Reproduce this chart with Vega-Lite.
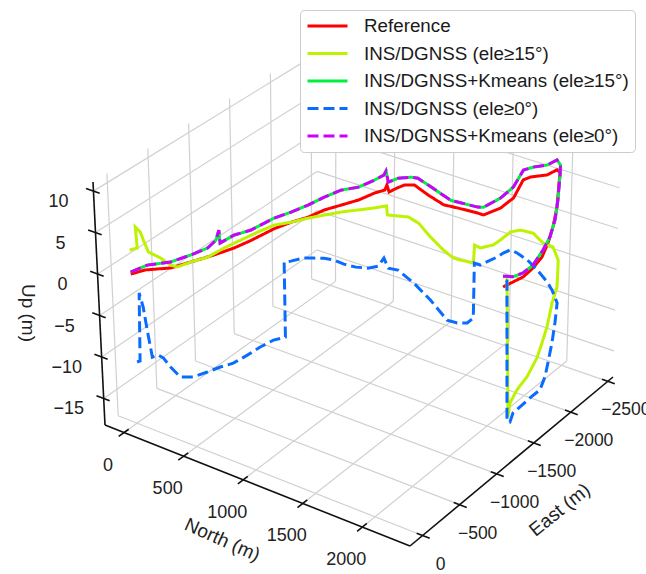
{
 "$schema": "https://vega.github.io/schema/vega-lite/v6.json",
 "width": 646, "height": 574, "padding": 0,
 "autosize": {"type": "none"},
 "background": "white",
 "config": {"view": {"stroke": null}, "text": {"font": "Liberation Sans"}},
 "data": {"values": [
  {"k":"g","id":"e0","N":-160,"E":0,"U":-18.2},{"k":"g","id":"e0","N":-160,"E":0,"U":11.1},
  {"k":"g","id":"e1","N":-160,"E":-500,"U":-18.2},{"k":"g","id":"e1","N":-160,"E":-500,"U":11.1},
  {"k":"g","id":"e2","N":-160,"E":-1000,"U":-18.2},{"k":"g","id":"e2","N":-160,"E":-1000,"U":11.1},
  {"k":"g","id":"e3","N":-160,"E":-1500,"U":-18.2},{"k":"g","id":"e3","N":-160,"E":-1500,"U":11.1},
  {"k":"g","id":"e4","N":-160,"E":-2000,"U":-18.2},{"k":"g","id":"e4","N":-160,"E":-2000,"U":11.1},
  {"k":"g","id":"e5","N":-160,"E":-2500,"U":-18.2},{"k":"g","id":"e5","N":-160,"E":-2500,"U":11.1},
  {"k":"g","id":"u1","N":-160,"E":170,"U":-15},{"k":"g","id":"u1","N":-160,"E":-2570,"U":-15},
  {"k":"g","id":"u2","N":-160,"E":170,"U":-10},{"k":"g","id":"u2","N":-160,"E":-2570,"U":-10},
  {"k":"g","id":"u3","N":-160,"E":170,"U":-5},{"k":"g","id":"u3","N":-160,"E":-2570,"U":-5},
  {"k":"g","id":"u4","N":-160,"E":170,"U":0},{"k":"g","id":"u4","N":-160,"E":-2570,"U":0},
  {"k":"g","id":"u5","N":-160,"E":170,"U":5},{"k":"g","id":"u5","N":-160,"E":-2570,"U":5},
  {"k":"g","id":"u6","N":-160,"E":170,"U":10},{"k":"g","id":"u6","N":-160,"E":-2570,"U":10},
  {"k":"g","id":"n1","N":0,"E":-2570,"U":-18.2},{"k":"g","id":"n1","N":0,"E":-2570,"U":11.1},
  {"k":"g","id":"n2","N":500,"E":-2570,"U":-18.2},{"k":"g","id":"n2","N":500,"E":-2570,"U":11.1},
  {"k":"g","id":"n3","N":1000,"E":-2570,"U":-18.2},{"k":"g","id":"n3","N":1000,"E":-2570,"U":11.1},
  {"k":"g","id":"n4","N":1500,"E":-2570,"U":-18.2},{"k":"g","id":"n4","N":1500,"E":-2570,"U":11.1},
  {"k":"g","id":"n5","N":2000,"E":-2570,"U":-18.2},{"k":"g","id":"n5","N":2000,"E":-2570,"U":11.1},
  {"k":"g","id":"r1","N":-160,"E":-2570,"U":-15},{"k":"g","id":"r1","N":2400,"E":-2570,"U":-15},
  {"k":"g","id":"r2","N":-160,"E":-2570,"U":-10},{"k":"g","id":"r2","N":2400,"E":-2570,"U":-10},
  {"k":"g","id":"r3","N":-160,"E":-2570,"U":-5},{"k":"g","id":"r3","N":2400,"E":-2570,"U":-5},
  {"k":"g","id":"r4","N":-160,"E":-2570,"U":0},{"k":"g","id":"r4","N":2400,"E":-2570,"U":0},
  {"k":"g","id":"r5","N":-160,"E":-2570,"U":5},{"k":"g","id":"r5","N":2400,"E":-2570,"U":5},
  {"k":"g","id":"r6","N":-160,"E":-2570,"U":10},{"k":"g","id":"r6","N":2400,"E":-2570,"U":10},
  {"k":"g","id":"f1","N":0,"E":170,"U":-18.2},{"k":"g","id":"f1","N":0,"E":-2570,"U":-18.2},
  {"k":"g","id":"f2","N":500,"E":170,"U":-18.2},{"k":"g","id":"f2","N":500,"E":-2570,"U":-18.2},
  {"k":"g","id":"f3","N":1000,"E":170,"U":-18.2},{"k":"g","id":"f3","N":1000,"E":-2570,"U":-18.2},
  {"k":"g","id":"f4","N":1500,"E":170,"U":-18.2},{"k":"g","id":"f4","N":1500,"E":-2570,"U":-18.2},
  {"k":"g","id":"f5","N":2000,"E":170,"U":-18.2},{"k":"g","id":"f5","N":2000,"E":-2570,"U":-18.2},
  {"k":"g","id":"h0","N":-160,"E":0,"U":-18.2},{"k":"g","id":"h0","N":2400,"E":0,"U":-18.2},
  {"k":"g","id":"h1","N":-160,"E":-500,"U":-18.2},{"k":"g","id":"h1","N":2400,"E":-500,"U":-18.2},
  {"k":"g","id":"h2","N":-160,"E":-1000,"U":-18.2},{"k":"g","id":"h2","N":2400,"E":-1000,"U":-18.2},
  {"k":"g","id":"h3","N":-160,"E":-1500,"U":-18.2},{"k":"g","id":"h3","N":2400,"E":-1500,"U":-18.2},
  {"k":"g","id":"h4","N":-160,"E":-2000,"U":-18.2},{"k":"g","id":"h4","N":2400,"E":-2000,"U":-18.2},
  {"k":"g","id":"h5","N":-160,"E":-2500,"U":-18.2},{"k":"g","id":"h5","N":2400,"E":-2500,"U":-18.2},

  {"k":"a","id":"aN","N":-160,"E":170,"U":-18.2},{"k":"a","id":"aN","N":2400,"E":170,"U":-18.2},
  {"k":"a","id":"aE","N":2400,"E":170,"U":-18.2},{"k":"a","id":"aE","N":2400,"E":-2570,"U":-18.2},
  {"k":"a","id":"aU","N":-160,"E":170,"U":-18.2},{"k":"a","id":"aU","N":-160,"E":170,"U":11.1},
  {"k":"t","id":"tn0","N":0,"E":240,"U":-18.2},{"k":"t","id":"tn0","N":0,"E":110,"U":-18.2},
  {"k":"t","id":"tn1","N":500,"E":240,"U":-18.2},{"k":"t","id":"tn1","N":500,"E":110,"U":-18.2},
  {"k":"t","id":"tn2","N":1000,"E":240,"U":-18.2},{"k":"t","id":"tn2","N":1000,"E":110,"U":-18.2},
  {"k":"t","id":"tn3","N":1500,"E":240,"U":-18.2},{"k":"t","id":"tn3","N":1500,"E":110,"U":-18.2},
  {"k":"t","id":"tn4","N":2000,"E":240,"U":-18.2},{"k":"t","id":"tn4","N":2000,"E":110,"U":-18.2},
  {"k":"t","id":"te0","N":2460,"E":0,"U":-18.2},{"k":"t","id":"te0","N":2350,"E":0,"U":-18.2},
  {"k":"t","id":"te1","N":2460,"E":-500,"U":-18.2},{"k":"t","id":"te1","N":2350,"E":-500,"U":-18.2},
  {"k":"t","id":"te2","N":2460,"E":-1000,"U":-18.2},{"k":"t","id":"te2","N":2350,"E":-1000,"U":-18.2},
  {"k":"t","id":"te3","N":2460,"E":-1500,"U":-18.2},{"k":"t","id":"te3","N":2350,"E":-1500,"U":-18.2},
  {"k":"t","id":"te4","N":2460,"E":-2000,"U":-18.2},{"k":"t","id":"te4","N":2350,"E":-2000,"U":-18.2},
  {"k":"t","id":"te5","N":2460,"E":-2500,"U":-18.2},{"k":"t","id":"te5","N":2350,"E":-2500,"U":-18.2},
  {"k":"t","id":"tu1","N":-220,"E":170,"U":-15},{"k":"t","id":"tu1","N":-110,"E":170,"U":-15},
  {"k":"t","id":"tu2","N":-220,"E":170,"U":-10},{"k":"t","id":"tu2","N":-110,"E":170,"U":-10},
  {"k":"t","id":"tu3","N":-220,"E":170,"U":-5},{"k":"t","id":"tu3","N":-110,"E":170,"U":-5},
  {"k":"t","id":"tu4","N":-220,"E":170,"U":0},{"k":"t","id":"tu4","N":-110,"E":170,"U":0},
  {"k":"t","id":"tu5","N":-220,"E":170,"U":5},{"k":"t","id":"tu5","N":-110,"E":170,"U":5},
  {"k":"t","id":"tu6","N":-220,"E":170,"U":10},{"k":"t","id":"tu6","N":-110,"E":170,"U":10},

  {"k":"nl","N":0,"E":170,"U":-18.2,"lab":"0"},
  {"k":"nl","N":500,"E":170,"U":-18.2,"lab":"500"},
  {"k":"nl","N":1000,"E":170,"U":-18.2,"lab":"1000"},
  {"k":"nl","N":1500,"E":170,"U":-18.2,"lab":"1500"},
  {"k":"nl","N":2000,"E":170,"U":-18.2,"lab":"2000"},
  {"k":"el","N":2400,"E":0,"U":-18.2,"lab":"0"},
  {"k":"el","N":2400,"E":-500,"U":-18.2,"lab":"−500"},
  {"k":"el","N":2400,"E":-1000,"U":-18.2,"lab":"−1000"},
  {"k":"el","N":2400,"E":-1500,"U":-18.2,"lab":"−1500"},
  {"k":"el","N":2400,"E":-2000,"U":-18.2,"lab":"−2000"},
  {"k":"el","N":2400,"E":-2500,"U":-18.2,"lab":"−2500"},
  {"k":"ul","N":-160,"E":170,"U":10,"lab":"10"},
  {"k":"ul","N":-160,"E":170,"U":5,"lab":"5"},
  {"k":"ul","N":-160,"E":170,"U":0,"lab":"0"},
  {"k":"ul","N":-160,"E":170,"U":-5,"lab":"−5"},
  {"k":"ul","N":-160,"E":170,"U":-10,"lab":"−10"},
  {"k":"ul","N":-160,"E":170,"U":-15,"lab":"−15"},
  {"k":"nt","N":1120,"E":170,"U":-18.2,"lab":"North (m)"},
  {"k":"et","N":2400,"E":-1200,"U":-18.2,"lab":"East (m)"},
  {"k":"ut","N":-160,"E":170,"U":-3.55,"lab":"Up (m)"},

  {"k":"s","s":"Reference","N":0,"E":0,"U":-0.2},
  {"k":"s","s":"Reference","N":76,"E":-70,"U":0.27},
  {"k":"s","s":"Reference","N":207,"E":-190,"U":0.45},
  {"k":"s","s":"Reference","N":310,"E":-285,"U":1.11},
  {"k":"s","s":"Reference","N":430,"E":-396,"U":1.88},
  {"k":"s","s":"Reference","N":535,"E":-492,"U":2.66},
  {"k":"s","s":"Reference","N":622,"E":-572,"U":3.5},
  {"k":"s","s":"Reference","N":745,"E":-685,"U":4.85},
  {"k":"s","s":"Reference","N":834,"E":-767,"U":5.56},
  {"k":"s","s":"Reference","N":921,"E":-847,"U":6.09},
  {"k":"s","s":"Reference","N":1004,"E":-923,"U":6.88},
  {"k":"s","s":"Reference","N":1093,"E":-1005,"U":7.39},
  {"k":"s","s":"Reference","N":1182,"E":-1087,"U":7.91},
  {"k":"s","s":"Reference","N":1264,"E":-1162,"U":8.66},
  {"k":"s","s":"Reference","N":1316,"E":-1210,"U":8.96},
  {"k":"s","s":"Reference","N":1327,"E":-1220,"U":9.56},
  {"k":"s","s":"Reference","N":1338,"E":-1230,"U":8.69},
  {"k":"s","s":"Reference","N":1378,"E":-1267,"U":9.11},
  {"k":"s","s":"Reference","N":1418,"E":-1304,"U":9.44},
  {"k":"s","s":"Reference","N":1470,"E":-1351,"U":9.37},
  {"k":"s","s":"Reference","N":1541,"E":-1417,"U":8.06},
  {"k":"s","s":"Reference","N":1623,"E":-1492,"U":6.76},
  {"k":"s","s":"Reference","N":1697,"E":-1560,"U":6.27},
  {"k":"s","s":"Reference","N":1800,"E":-1654,"U":5.52},
  {"k":"s","s":"Reference","N":1831,"E":-1683,"U":5.23},
  {"k":"s","s":"Reference","N":1920,"E":-1765,"U":5.94},
  {"k":"s","s":"Reference","N":1987,"E":-1827,"U":7.06},
  {"k":"s","s":"Reference","N":2036,"E":-1872,"U":9.17},
  {"k":"s","s":"Reference","N":2074,"E":-1906,"U":9.46},
  {"k":"s","s":"Reference","N":2161,"E":-1986,"U":9.57},
  {"k":"s","s":"Reference","N":2212,"E":-2034,"U":10.1},
  {"k":"s","s":"Reference","N":2230,"E":-2050,"U":9.69},
  {"k":"s","s":"Reference","N":2230,"E":-2036,"U":8.56},
  {"k":"s","s":"Reference","N":2230,"E":-2017,"U":5.77},
  {"k":"s","s":"Reference","N":2230,"E":-1970,"U":3.69},
  {"k":"s","s":"Reference","N":2230,"E":-1909,"U":2.16},
  {"k":"s","s":"Reference","N":2230,"E":-1833,"U":1.0},
  {"k":"s","s":"Reference","N":2230,"E":-1715,"U":0.49},
  {"k":"s","s":"Reference","N":2230,"E":-1585,"U":0.33},
  {"k":"s","s":"Reference","N":2230,"E":-1453,"U":0.66},
  {"k":"s","s":"Reference","N":2230,"E":-1322,"U":0.98},

  {"k":"s","s":"INS/DGNSS (ele≥15°)","N":0,"E":0,"U":2.71},
  {"k":"s","s":"INS/DGNSS (ele≥15°)","N":39,"E":-36,"U":2.93},
  {"k":"s","s":"INS/DGNSS (ele≥15°)","N":33,"E":-31,"U":5.46},
  {"k":"s","s":"INS/DGNSS (ele≥15°)","N":58,"E":-53,"U":4.86},
  {"k":"s","s":"INS/DGNSS (ele≥15°)","N":72,"E":-66,"U":3.89},
  {"k":"s","s":"INS/DGNSS (ele≥15°)","N":95,"E":-87,"U":2.43},
  {"k":"s","s":"INS/DGNSS (ele≥15°)","N":156,"E":-144,"U":1.67},
  {"k":"s","s":"INS/DGNSS (ele≥15°)","N":206,"E":-189,"U":0.81},
  {"k":"s","s":"INS/DGNSS (ele≥15°)","N":241,"E":-221,"U":0.55},
  {"k":"s","s":"INS/DGNSS (ele≥15°)","N":310,"E":-285,"U":1.11},
  {"k":"s","s":"INS/DGNSS (ele≥15°)","N":399,"E":-367,"U":1.66},
  {"k":"s","s":"INS/DGNSS (ele≥15°)","N":483,"E":-444,"U":2.69},
  {"k":"s","s":"INS/DGNSS (ele≥15°)","N":571,"E":-525,"U":3.6},
  {"k":"s","s":"INS/DGNSS (ele≥15°)","N":659,"E":-606,"U":4.49},
  {"k":"s","s":"INS/DGNSS (ele≥15°)","N":743,"E":-683,"U":5.27},
  {"k":"s","s":"INS/DGNSS (ele≥15°)","N":834,"E":-767,"U":5.56},
  {"k":"s","s":"INS/DGNSS (ele≥15°)","N":921,"E":-847,"U":5.97},
  {"k":"s","s":"INS/DGNSS (ele≥15°)","N":1004,"E":-923,"U":6.26},
  {"k":"s","s":"INS/DGNSS (ele≥15°)","N":1093,"E":-1005,"U":6.54},
  {"k":"s","s":"INS/DGNSS (ele≥15°)","N":1182,"E":-1087,"U":6.7},
  {"k":"s","s":"INS/DGNSS (ele≥15°)","N":1264,"E":-1162,"U":6.85},
  {"k":"s","s":"INS/DGNSS (ele≥15°)","N":1325,"E":-1218,"U":7.02},
  {"k":"s","s":"INS/DGNSS (ele≥15°)","N":1329,"E":-1222,"U":5.91},
  {"k":"s","s":"INS/DGNSS (ele≥15°)","N":1385,"E":-1273,"U":5.72},
  {"k":"s","s":"INS/DGNSS (ele≥15°)","N":1438,"E":-1322,"U":5.53},
  {"k":"s","s":"INS/DGNSS (ele≥15°)","N":1492,"E":-1371,"U":4.72},
  {"k":"s","s":"INS/DGNSS (ele≥15°)","N":1554,"E":-1429,"U":2.95},
  {"k":"s","s":"INS/DGNSS (ele≥15°)","N":1622,"E":-1491,"U":1.28},
  {"k":"s","s":"INS/DGNSS (ele≥15°)","N":1675,"E":-1540,"U":0.22},
  {"k":"s","s":"INS/DGNSS (ele≥15°)","N":1712,"E":-1574,"U":-0.07},
  {"k":"s","s":"INS/DGNSS (ele≥15°)","N":1781,"E":-1637,"U":-0.53},
  {"k":"s","s":"INS/DGNSS (ele≥15°)","N":1786,"E":-1642,"U":1.64},
  {"k":"s","s":"INS/DGNSS (ele≥15°)","N":1816,"E":-1670,"U":1.24},
  {"k":"s","s":"INS/DGNSS (ele≥15°)","N":1884,"E":-1732,"U":1.5},
  {"k":"s","s":"INS/DGNSS (ele≥15°)","N":1922,"E":-1767,"U":2.05},
  {"k":"s","s":"INS/DGNSS (ele≥15°)","N":1974,"E":-1814,"U":2.95},
  {"k":"s","s":"INS/DGNSS (ele≥15°)","N":2026,"E":-1862,"U":3.09},
  {"k":"s","s":"INS/DGNSS (ele≥15°)","N":2094,"E":-1925,"U":2.6},
  {"k":"s","s":"INS/DGNSS (ele≥15°)","N":2147,"E":-1974,"U":1.31},
  {"k":"s","s":"INS/DGNSS (ele≥15°)","N":2201,"E":-2023,"U":0.73},
  {"k":"s","s":"INS/DGNSS (ele≥15°)","N":2230,"E":-2050,"U":-0.9},
  {"k":"s","s":"INS/DGNSS (ele≥15°)","N":2230,"E":-2049,"U":-2.14},
  {"k":"s","s":"INS/DGNSS (ele≥15°)","N":2230,"E":-2043,"U":-4.14},
  {"k":"s","s":"INS/DGNSS (ele≥15°)","N":2230,"E":-1981,"U":-5.64},
  {"k":"s","s":"INS/DGNSS (ele≥15°)","N":2230,"E":-1921,"U":-8.1},
  {"k":"s","s":"INS/DGNSS (ele≥15°)","N":2230,"E":-1858,"U":-9.59},
  {"k":"s","s":"INS/DGNSS (ele≥15°)","N":2230,"E":-1795,"U":-10.94},
  {"k":"s","s":"INS/DGNSS (ele≥15°)","N":2230,"E":-1664,"U":-12.29},
  {"k":"s","s":"INS/DGNSS (ele≥15°)","N":2230,"E":-1532,"U":-12.9},
  {"k":"s","s":"INS/DGNSS (ele≥15°)","N":2230,"E":-1440,"U":-13.81},
  {"k":"s","s":"INS/DGNSS (ele≥15°)","N":2230,"E":-1416,"U":-15.3},
  {"k":"s","s":"INS/DGNSS (ele≥15°)","N":2230,"E":-1373,"U":1.69},

  {"k":"s","s":"INS/DGNSS+Kmeans (ele≥15°)","N":0,"E":0,"U":0.05},
  {"k":"s","s":"INS/DGNSS+Kmeans (ele≥15°)","N":87,"E":-80,"U":0.85},
  {"k":"s","s":"INS/DGNSS+Kmeans (ele≥15°)","N":207,"E":-191,"U":1.17},
  {"k":"s","s":"INS/DGNSS+Kmeans (ele≥15°)","N":312,"E":-287,"U":1.96},
  {"k":"s","s":"INS/DGNSS+Kmeans (ele≥15°)","N":399,"E":-367,"U":2.75},
  {"k":"s","s":"INS/DGNSS+Kmeans (ele≥15°)","N":443,"E":-407,"U":3.67},
  {"k":"s","s":"INS/DGNSS+Kmeans (ele≥15°)","N":459,"E":-422,"U":4.87},
  {"k":"s","s":"INS/DGNSS+Kmeans (ele≥15°)","N":464,"E":-426,"U":3.3},
  {"k":"s","s":"INS/DGNSS+Kmeans (ele≥15°)","N":535,"E":-492,"U":4.21},
  {"k":"s","s":"INS/DGNSS+Kmeans (ele≥15°)","N":624,"E":-574,"U":4.77},
  {"k":"s","s":"INS/DGNSS+Kmeans (ele≥15°)","N":744,"E":-684,"U":6.12},
  {"k":"s","s":"INS/DGNSS+Kmeans (ele≥15°)","N":832,"E":-765,"U":6.77},
  {"k":"s","s":"INS/DGNSS+Kmeans (ele≥15°)","N":919,"E":-845,"U":7.54},
  {"k":"s","s":"INS/DGNSS+Kmeans (ele≥15°)","N":1004,"E":-923,"U":8.43},
  {"k":"s","s":"INS/DGNSS+Kmeans (ele≥15°)","N":1090,"E":-1002,"U":9.19},
  {"k":"s","s":"INS/DGNSS+Kmeans (ele≥15°)","N":1180,"E":-1084,"U":9.46},
  {"k":"s","s":"INS/DGNSS+Kmeans (ele≥15°)","N":1261,"E":-1159,"U":10.2},
  {"k":"s","s":"INS/DGNSS+Kmeans (ele≥15°)","N":1311,"E":-1205,"U":10.77},
  {"k":"s","s":"INS/DGNSS+Kmeans (ele≥15°)","N":1322,"E":-1216,"U":11.25},
  {"k":"s","s":"INS/DGNSS+Kmeans (ele≥15°)","N":1334,"E":-1226,"U":9.89},
  {"k":"s","s":"INS/DGNSS+Kmeans (ele≥15°)","N":1385,"E":-1273,"U":10.31},
  {"k":"s","s":"INS/DGNSS+Kmeans (ele≥15°)","N":1452,"E":-1335,"U":10.35},
  {"k":"s","s":"INS/DGNSS+Kmeans (ele≥15°)","N":1487,"E":-1367,"U":10.18},
  {"k":"s","s":"INS/DGNSS+Kmeans (ele≥15°)","N":1541,"E":-1417,"U":9.27},
  {"k":"s","s":"INS/DGNSS+Kmeans (ele≥15°)","N":1659,"E":-1525,"U":7.26},
  {"k":"s","s":"INS/DGNSS+Kmeans (ele≥15°)","N":1695,"E":-1558,"U":7.0},
  {"k":"s","s":"INS/DGNSS+Kmeans (ele≥15°)","N":1800,"E":-1654,"U":6.24},
  {"k":"s","s":"INS/DGNSS+Kmeans (ele≥15°)","N":1831,"E":-1683,"U":6.18},
  {"k":"s","s":"INS/DGNSS+Kmeans (ele≥15°)","N":1919,"E":-1764,"U":7.15},
  {"k":"s","s":"INS/DGNSS+Kmeans (ele≥15°)","N":1985,"E":-1825,"U":8.38},
  {"k":"s","s":"INS/DGNSS+Kmeans (ele≥15°)","N":2036,"E":-1872,"U":10.36},
  {"k":"s","s":"INS/DGNSS+Kmeans (ele≥15°)","N":2087,"E":-1919,"U":10.64},
  {"k":"s","s":"INS/DGNSS+Kmeans (ele≥15°)","N":2160,"E":-1986,"U":10.77},
  {"k":"s","s":"INS/DGNSS+Kmeans (ele≥15°)","N":2211,"E":-2033,"U":11.3},
  {"k":"s","s":"INS/DGNSS+Kmeans (ele≥15°)","N":2230,"E":-2050,"U":10.66},
  {"k":"s","s":"INS/DGNSS+Kmeans (ele≥15°)","N":2230,"E":-2045,"U":9.2},
  {"k":"s","s":"INS/DGNSS+Kmeans (ele≥15°)","N":2230,"E":-2027,"U":6.56},
  {"k":"s","s":"INS/DGNSS+Kmeans (ele≥15°)","N":2230,"E":-1995,"U":4.36},
  {"k":"s","s":"INS/DGNSS+Kmeans (ele≥15°)","N":2230,"E":-1933,"U":2.72},
  {"k":"s","s":"INS/DGNSS+Kmeans (ele≥15°)","N":2230,"E":-1844,"U":1.77},
  {"k":"s","s":"INS/DGNSS+Kmeans (ele≥15°)","N":2230,"E":-1715,"U":0.86},
  {"k":"s","s":"INS/DGNSS+Kmeans (ele≥15°)","N":2230,"E":-1584,"U":0.82},
  {"k":"s","s":"INS/DGNSS+Kmeans (ele≥15°)","N":2230,"E":-1452,"U":1.3},
  {"k":"s","s":"INS/DGNSS+Kmeans (ele≥15°)","N":2230,"E":-1373,"U":1.9},
  {"k":"s","s":"INS/DGNSS+Kmeans (ele≥15°)","N":2230,"E":-1319,"U":2.28},

  {"k":"s","s":"INS/DGNSS (ele≥0°)","N":13,"E":-12,"U":-10.82},
  {"k":"s","s":"INS/DGNSS (ele≥0°)","N":29,"E":-27,"U":-10.7},
  {"k":"s","s":"INS/DGNSS (ele≥0°)","N":39,"E":-36,"U":-2.5},
  {"k":"s","s":"INS/DGNSS (ele≥0°)","N":57,"E":-52,"U":-4.2},
  {"k":"s","s":"INS/DGNSS (ele≥0°)","N":73,"E":-67,"U":-7.0},
  {"k":"s","s":"INS/DGNSS (ele≥0°)","N":94,"E":-86,"U":-10.27},
  {"k":"s","s":"INS/DGNSS (ele≥0°)","N":126,"E":-116,"U":-10.03},
  {"k":"s","s":"INS/DGNSS (ele≥0°)","N":152,"E":-139,"U":-10.41},
  {"k":"s","s":"INS/DGNSS (ele≥0°)","N":187,"E":-172,"U":-11.52},
  {"k":"s","s":"INS/DGNSS (ele≥0°)","N":236,"E":-217,"U":-12.75},
  {"k":"s","s":"INS/DGNSS (ele≥0°)","N":303,"E":-279,"U":-12.78},
  {"k":"s","s":"INS/DGNSS (ele≥0°)","N":378,"E":-348,"U":-12.24},
  {"k":"s","s":"INS/DGNSS (ele≥0°)","N":447,"E":-411,"U":-11.68},
  {"k":"s","s":"INS/DGNSS (ele≥0°)","N":516,"E":-474,"U":-11.26},
  {"k":"s","s":"INS/DGNSS (ele≥0°)","N":590,"E":-543,"U":-10.35},
  {"k":"s","s":"INS/DGNSS (ele≥0°)","N":659,"E":-606,"U":-9.42},
  {"k":"s","s":"INS/DGNSS (ele≥0°)","N":729,"E":-670,"U":-8.65},
  {"k":"s","s":"INS/DGNSS (ele≥0°)","N":792,"E":-728,"U":-8.33},
  {"k":"s","s":"INS/DGNSS (ele≥0°)","N":792,"E":-728,"U":0.75},
  {"k":"s","s":"INS/DGNSS (ele≥0°)","N":827,"E":-760,"U":0.84},
  {"k":"s","s":"INS/DGNSS (ele≥0°)","N":894,"E":-822,"U":1.15},
  {"k":"s","s":"INS/DGNSS (ele≥0°)","N":946,"E":-870,"U":1.09},
  {"k":"s","s":"INS/DGNSS (ele≥0°)","N":998,"E":-918,"U":1.02},
  {"k":"s","s":"INS/DGNSS (ele≥0°)","N":1050,"E":-966,"U":0.75},
  {"k":"s","s":"INS/DGNSS (ele≥0°)","N":1102,"E":-1013,"U":0.2},
  {"k":"s","s":"INS/DGNSS (ele≥0°)","N":1165,"E":-1071,"U":-0.23},
  {"k":"s","s":"INS/DGNSS (ele≥0°)","N":1227,"E":-1128,"U":-0.42},
  {"k":"s","s":"INS/DGNSS (ele≥0°)","N":1280,"E":-1177,"U":-0.24},
  {"k":"s","s":"INS/DGNSS (ele≥0°)","N":1311,"E":-1205,"U":0.7},
  {"k":"s","s":"INS/DGNSS (ele≥0°)","N":1334,"E":-1226,"U":-0.55},
  {"k":"s","s":"INS/DGNSS (ele≥0°)","N":1384,"E":-1273,"U":-0.85},
  {"k":"s","s":"INS/DGNSS (ele≥0°)","N":1468,"E":-1350,"U":-2.54},
  {"k":"s","s":"INS/DGNSS (ele≥0°)","N":1556,"E":-1430,"U":-4.71},
  {"k":"s","s":"INS/DGNSS (ele≥0°)","N":1645,"E":-1512,"U":-7.27},
  {"k":"s","s":"INS/DGNSS (ele≥0°)","N":1699,"E":-1562,"U":-7.71},
  {"k":"s","s":"INS/DGNSS (ele≥0°)","N":1752,"E":-1611,"U":-7.78},
  {"k":"s","s":"INS/DGNSS (ele≥0°)","N":1784,"E":-1640,"U":-7.23},
  {"k":"s","s":"INS/DGNSS (ele≥0°)","N":1786,"E":-1642,"U":-0.54},
  {"k":"s","s":"INS/DGNSS (ele≥0°)","N":1817,"E":-1671,"U":-0.84},
  {"k":"s","s":"INS/DGNSS (ele≥0°)","N":1907,"E":-1753,"U":0.01},
  {"k":"s","s":"INS/DGNSS (ele≥0°)","N":1938,"E":-1781,"U":0.43},
  {"k":"s","s":"INS/DGNSS (ele≥0°)","N":1975,"E":-1816,"U":0.75},
  {"k":"s","s":"INS/DGNSS (ele≥0°)","N":2011,"E":-1849,"U":0.32},
  {"k":"s","s":"INS/DGNSS (ele≥0°)","N":2067,"E":-1900,"U":-0.63},
  {"k":"s","s":"INS/DGNSS (ele≥0°)","N":2120,"E":-1949,"U":-1.93},
  {"k":"s","s":"INS/DGNSS (ele≥0°)","N":2174,"E":-1999,"U":-3.49},
  {"k":"s","s":"INS/DGNSS (ele≥0°)","N":2201,"E":-2023,"U":-4.51},
  {"k":"s","s":"INS/DGNSS (ele≥0°)","N":2230,"E":-2050,"U":-6.14},
  {"k":"s","s":"INS/DGNSS (ele≥0°)","N":2230,"E":-2027,"U":-8.38},
  {"k":"s","s":"INS/DGNSS (ele≥0°)","N":2230,"E":-1993,"U":-10.55},
  {"k":"s","s":"INS/DGNSS (ele≥0°)","N":2230,"E":-1945,"U":-12.63},
  {"k":"s","s":"INS/DGNSS (ele≥0°)","N":2230,"E":-1909,"U":-14.07},
  {"k":"s","s":"INS/DGNSS (ele≥0°)","N":2230,"E":-1845,"U":-15.18},
  {"k":"s","s":"INS/DGNSS (ele≥0°)","N":2230,"E":-1711,"U":-15.19},
  {"k":"s","s":"INS/DGNSS (ele≥0°)","N":2230,"E":-1577,"U":-15.3},
  {"k":"s","s":"INS/DGNSS (ele≥0°)","N":2230,"E":-1483,"U":-15.33},
  {"k":"s","s":"INS/DGNSS (ele≥0°)","N":2230,"E":-1444,"U":-16.13},
  {"k":"s","s":"INS/DGNSS (ele≥0°)","N":2230,"E":-1403,"U":-15.73},
  {"k":"s","s":"INS/DGNSS (ele≥0°)","N":2230,"E":-1373,"U":1.33},
  {"k":"s","s":"INS/DGNSS (ele≥0°)","N":2230,"E":-1319,"U":2.05},

  {"k":"s","s":"INS/DGNSS+Kmeans (ele≥0°)","N":0,"E":0,"U":0.05},
  {"k":"s","s":"INS/DGNSS+Kmeans (ele≥0°)","N":87,"E":-80,"U":0.85},
  {"k":"s","s":"INS/DGNSS+Kmeans (ele≥0°)","N":207,"E":-191,"U":1.17},
  {"k":"s","s":"INS/DGNSS+Kmeans (ele≥0°)","N":312,"E":-287,"U":1.96},
  {"k":"s","s":"INS/DGNSS+Kmeans (ele≥0°)","N":399,"E":-367,"U":2.75},
  {"k":"s","s":"INS/DGNSS+Kmeans (ele≥0°)","N":443,"E":-407,"U":3.67},
  {"k":"s","s":"INS/DGNSS+Kmeans (ele≥0°)","N":459,"E":-422,"U":4.87},
  {"k":"s","s":"INS/DGNSS+Kmeans (ele≥0°)","N":464,"E":-426,"U":3.3},
  {"k":"s","s":"INS/DGNSS+Kmeans (ele≥0°)","N":535,"E":-492,"U":4.21},
  {"k":"s","s":"INS/DGNSS+Kmeans (ele≥0°)","N":624,"E":-574,"U":4.77},
  {"k":"s","s":"INS/DGNSS+Kmeans (ele≥0°)","N":744,"E":-684,"U":6.12},
  {"k":"s","s":"INS/DGNSS+Kmeans (ele≥0°)","N":832,"E":-765,"U":6.77},
  {"k":"s","s":"INS/DGNSS+Kmeans (ele≥0°)","N":919,"E":-845,"U":7.54},
  {"k":"s","s":"INS/DGNSS+Kmeans (ele≥0°)","N":1004,"E":-923,"U":8.43},
  {"k":"s","s":"INS/DGNSS+Kmeans (ele≥0°)","N":1090,"E":-1002,"U":9.19},
  {"k":"s","s":"INS/DGNSS+Kmeans (ele≥0°)","N":1180,"E":-1084,"U":9.46},
  {"k":"s","s":"INS/DGNSS+Kmeans (ele≥0°)","N":1261,"E":-1159,"U":10.2},
  {"k":"s","s":"INS/DGNSS+Kmeans (ele≥0°)","N":1311,"E":-1205,"U":10.77},
  {"k":"s","s":"INS/DGNSS+Kmeans (ele≥0°)","N":1322,"E":-1216,"U":11.25},
  {"k":"s","s":"INS/DGNSS+Kmeans (ele≥0°)","N":1334,"E":-1226,"U":9.89},
  {"k":"s","s":"INS/DGNSS+Kmeans (ele≥0°)","N":1385,"E":-1273,"U":10.31},
  {"k":"s","s":"INS/DGNSS+Kmeans (ele≥0°)","N":1452,"E":-1335,"U":10.35},
  {"k":"s","s":"INS/DGNSS+Kmeans (ele≥0°)","N":1487,"E":-1367,"U":10.18},
  {"k":"s","s":"INS/DGNSS+Kmeans (ele≥0°)","N":1541,"E":-1417,"U":9.27},
  {"k":"s","s":"INS/DGNSS+Kmeans (ele≥0°)","N":1659,"E":-1525,"U":7.26},
  {"k":"s","s":"INS/DGNSS+Kmeans (ele≥0°)","N":1695,"E":-1558,"U":7.0},
  {"k":"s","s":"INS/DGNSS+Kmeans (ele≥0°)","N":1800,"E":-1654,"U":6.24},
  {"k":"s","s":"INS/DGNSS+Kmeans (ele≥0°)","N":1831,"E":-1683,"U":6.18},
  {"k":"s","s":"INS/DGNSS+Kmeans (ele≥0°)","N":1919,"E":-1764,"U":7.15},
  {"k":"s","s":"INS/DGNSS+Kmeans (ele≥0°)","N":1985,"E":-1825,"U":8.38},
  {"k":"s","s":"INS/DGNSS+Kmeans (ele≥0°)","N":2036,"E":-1872,"U":10.36},
  {"k":"s","s":"INS/DGNSS+Kmeans (ele≥0°)","N":2087,"E":-1919,"U":10.64},
  {"k":"s","s":"INS/DGNSS+Kmeans (ele≥0°)","N":2160,"E":-1986,"U":10.77},
  {"k":"s","s":"INS/DGNSS+Kmeans (ele≥0°)","N":2211,"E":-2033,"U":11.3},
  {"k":"s","s":"INS/DGNSS+Kmeans (ele≥0°)","N":2230,"E":-2050,"U":10.66},
  {"k":"s","s":"INS/DGNSS+Kmeans (ele≥0°)","N":2230,"E":-2045,"U":9.2},
  {"k":"s","s":"INS/DGNSS+Kmeans (ele≥0°)","N":2230,"E":-2027,"U":6.56},
  {"k":"s","s":"INS/DGNSS+Kmeans (ele≥0°)","N":2230,"E":-1995,"U":4.36},
  {"k":"s","s":"INS/DGNSS+Kmeans (ele≥0°)","N":2230,"E":-1933,"U":2.72},
  {"k":"s","s":"INS/DGNSS+Kmeans (ele≥0°)","N":2230,"E":-1844,"U":1.77},
  {"k":"s","s":"INS/DGNSS+Kmeans (ele≥0°)","N":2230,"E":-1715,"U":0.86},
  {"k":"s","s":"INS/DGNSS+Kmeans (ele≥0°)","N":2230,"E":-1584,"U":0.82},
  {"k":"s","s":"INS/DGNSS+Kmeans (ele≥0°)","N":2230,"E":-1452,"U":1.3},
  {"k":"s","s":"INS/DGNSS+Kmeans (ele≥0°)","N":2230,"E":-1373,"U":1.9},
  {"k":"s","s":"INS/DGNSS+Kmeans (ele≥0°)","N":2230,"E":-1319,"U":2.28}
 ]},
 "transform": [
  {"calculate": "(datum.N+160)/2560", "as": "tn"},
  {"calculate": "(170-datum.E)/2740", "as": "te"},
  {"calculate": "(datum.U+18.2)/29.3", "as": "tu"},
  {"calculate": "(1-datum.tn)*((1-datum.te)*(105-12*datum.tu)+datum.te*317)+datum.tn*((1-datum.te)*410+datum.te*(613+8*datum.tu))", "as": "px"},
  {"calculate": "(1-datum.tn)*((1-datum.te)*(425-243*datum.tu)+datum.te*(275-230*datum.tu))+datum.tn*((1-datum.te)*(546-251*datum.tu)+datum.te*(377-239*datum.tu))", "as": "py"}
 ],
 "encoding": {
  "x": {"field": "px", "type": "quantitative", "scale": {"domain": [0, 646], "nice": false, "zero": false}, "axis": null},
  "y": {"field": "py", "type": "quantitative", "scale": {"domain": [0, 574], "reverse": true, "nice": false, "zero": false}, "axis": null}
 },
 "layer": [
  {"transform": [{"filter": {"field": "k", "equal": "g"}}],
   "mark": {"type": "line", "stroke": "#d0d0d0", "strokeWidth": 1.2},
   "encoding": {"detail": {"field": "id"}, "order": {"value": null}}},
  {"transform": [{"filter": {"field": "k", "oneOf": ["a", "t"]}}],
   "mark": {"type": "line", "stroke": "#111111", "strokeWidth": 1.6},
   "encoding": {"detail": {"field": "id"}, "order": {"value": null}}},
  {"encoding": {
    "color": {"field": "s", "type": "nominal",
      "scale": {"domain": ["Reference", "INS/DGNSS (ele≥15°)", "INS/DGNSS+Kmeans (ele≥15°)", "INS/DGNSS (ele≥0°)", "INS/DGNSS+Kmeans (ele≥0°)"],
                "range": ["#ff0000", "#bdf200", "#00f040", "#0a6cff", "#cc00ff"]},
      "legend": {"orient": "none", "legendX": 300, "legendY": 10, "title": null, "padding": 6,
                 "fillColor": "white", "strokeColor": "#cccccc", "cornerRadius": 4,
                 "symbolType": "stroke", "symbolSize": 1600, "symbolStrokeWidth": 3, "clipHeight": 20,
                 "rowPadding": 7.5, "labelOffset": 15, "labelFont": "Liberation Sans", "labelFontSize": 18.8,
                 "labelColor": "#1a1a1a", "labelLimit": 400}},
    "strokeDash": {"field": "s", "type": "nominal",
      "scale": {"domain": ["Reference", "INS/DGNSS (ele≥15°)", "INS/DGNSS+Kmeans (ele≥15°)", "INS/DGNSS (ele≥0°)", "INS/DGNSS+Kmeans (ele≥0°)"],
                "range": [[1, 0], [1, 0], [1, 0], [11, 5], [11, 5]]},
      "legend": {"orient": "none", "legendX": 300, "legendY": 10, "title": null, "padding": 6,
                 "fillColor": "white", "strokeColor": "#cccccc", "cornerRadius": 4,
                 "symbolType": "stroke", "symbolSize": 1600, "symbolStrokeWidth": 3, "clipHeight": 20,
                 "rowPadding": 7.5, "labelOffset": 15, "labelFont": "Liberation Sans", "labelFontSize": 18.8,
                 "labelColor": "#1a1a1a", "labelLimit": 400}},
    "order": {"value": null}},
   "layer": [
    {"transform": [{"filter": {"field": "s", "equal": "Reference"}}], "mark": {"type": "line", "strokeWidth": 3, "strokeCap": "butt"}},
    {"transform": [{"filter": {"field": "s", "equal": "INS/DGNSS (ele≥15°)"}}], "mark": {"type": "line", "strokeWidth": 3, "strokeCap": "butt"}},
    {"transform": [{"filter": {"field": "s", "equal": "INS/DGNSS+Kmeans (ele≥15°)"}}], "mark": {"type": "line", "strokeWidth": 3, "strokeCap": "butt"}},
    {"transform": [{"filter": {"field": "s", "equal": "INS/DGNSS (ele≥0°)"}}], "mark": {"type": "line", "strokeWidth": 3, "strokeCap": "butt"}},
    {"transform": [{"filter": {"field": "s", "equal": "INS/DGNSS+Kmeans (ele≥0°)"}}], "mark": {"type": "line", "strokeWidth": 3, "strokeCap": "butt"}}
   ]},
  {"transform": [{"filter": {"field": "k", "equal": "nl"}}],
   "mark": {"type": "text", "align": "center", "baseline": "middle", "dx": -16, "dy": 33, "fontSize": 18, "fill": "#222222"},
   "encoding": {"text": {"field": "lab"}}},
  {"transform": [{"filter": {"field": "k", "equal": "el"}}],
   "mark": {"type": "text", "align": "center", "baseline": "middle", "dx": 18, "dy": 29, "fontSize": 17.5, "fill": "#222222"},
   "encoding": {"text": {"field": "lab"}}},
  {"transform": [{"filter": {"field": "k", "equal": "ul"}}],
   "mark": {"type": "text", "align": "center", "baseline": "middle", "dx": -35, "dy": 11, "fontSize": 18, "fill": "#222222"},
   "encoding": {"text": {"field": "lab"}}},
  {"transform": [{"filter": {"field": "k", "equal": "nt"}}],
   "mark": {"type": "text", "align": "center", "baseline": "middle", "angle": 24, "dx": -10, "dy": 64, "fontSize": 19, "fill": "#222222"},
   "encoding": {"text": {"field": "lab"}}},
  {"transform": [{"filter": {"field": "k", "equal": "et"}}],
   "mark": {"type": "text", "align": "center", "baseline": "middle", "angle": 321, "dx": 7, "dy": 68, "fontSize": 19, "fill": "#222222"},
   "encoding": {"text": {"field": "lab"}}},
  {"transform": [{"filter": {"field": "k", "equal": "ut"}}],
   "mark": {"type": "text", "align": "center", "baseline": "middle", "angle": 90, "dx": 9.5, "dy": 71, "fontSize": 19, "fill": "#222222"},
   "encoding": {"text": {"field": "lab"}}}
 ]
}
